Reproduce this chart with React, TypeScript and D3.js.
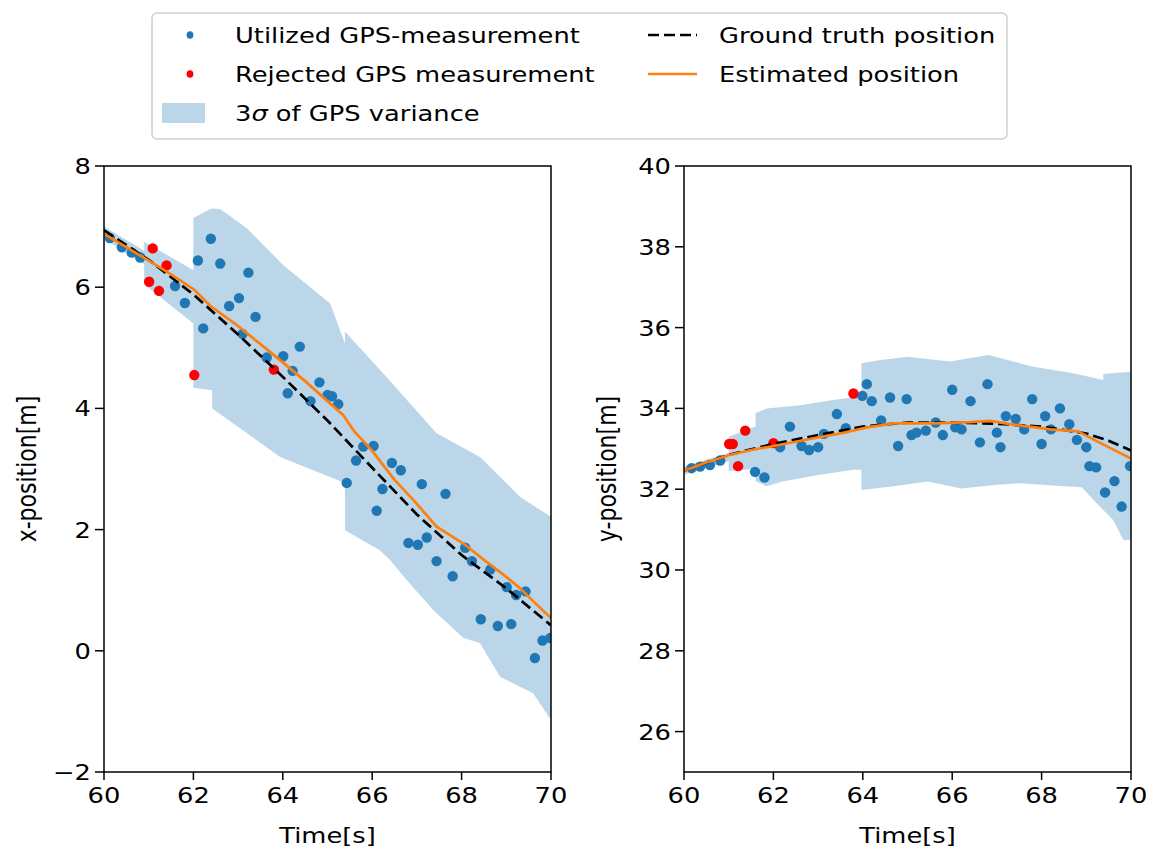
import React from 'react';
import * as d3 from 'd3';

const W = 1149;
const H = 851;
const SX = 1.17; // horizontal text stretch seen in the reference
const FS = 22;
const FONT = 'DejaVu Sans';

const BLUE = '#1f77b4';
const ORANGE = '#ff7f0e';
const RED = '#ff0000';

// ---------- Left panel (x-position) ----------
const leftUsedT = [60.13, 60.40, 60.62, 60.81, 61.59, 61.81, 62.10, 62.22, 62.39, 62.60, 62.80, 63.02, 63.10, 63.23, 63.39, 63.64, 64.01, 64.11, 64.22, 64.38, 64.62, 64.82, 65.00, 65.10, 65.24, 65.43, 65.64, 65.80, 66.03, 66.10, 66.23, 66.44, 66.64, 66.81, 67.02, 67.11, 67.22, 67.44, 67.64, 67.80, 68.08, 68.23, 68.43, 68.64, 68.81, 69.01, 69.11, 69.22, 69.43, 69.64, 69.81, 69.98];
const leftUsedX = [6.81, 6.66, 6.57, 6.49, 6.02, 5.74, 6.44, 5.32, 6.80, 6.39, 5.69, 5.82, 5.23, 6.24, 5.51, 4.84, 4.86, 4.25, 4.62, 5.02, 4.12, 4.43, 4.22, 4.20, 4.07, 2.77, 3.14, 3.37, 3.38, 2.31, 2.67, 3.10, 2.98, 1.78, 1.75, 2.75, 1.87, 1.48, 2.59, 1.23, 1.70, 1.48, 0.52, 1.34, 0.41, 1.05, 0.44, 0.92, 0.98, -0.12, 0.17, 0.21];
const leftRejT = [61.01, 61.09, 61.23, 61.40, 62.02, 63.80];
const leftRejX = [6.09, 6.64, 5.94, 6.36, 4.55, 4.64];

const leftTruthT = [60, 61, 62, 63, 64, 65, 66, 67, 68, 69, 70];
const leftTruthX = [6.94, 6.45, 5.88, 5.22, 4.52, 3.80, 3.02, 2.25, 1.58, 1.03, 0.42];

const leftEstT = [60.0, 60.5, 61.0, 61.5, 62.0, 62.4, 63.0, 63.5, 64.0, 64.5, 65.0, 65.35, 65.6, 66.0, 66.5, 66.92, 67.44, 68.04, 68.5, 69.0, 69.31, 69.6, 70.0];
const leftEstX = [6.88, 6.66, 6.44, 6.21, 5.97, 5.68, 5.36, 5.06, 4.76, 4.45, 4.12, 3.89, 3.62, 3.30, 2.82, 2.49, 2.05, 1.77, 1.50, 1.22, 1.03, 0.82, 0.54];

const leftBandUpT = [60, 60.9, 60.9, 62.0, 62.0, 62.2, 62.4, 62.6, 63.2, 64.0, 65.06, 65.39, 65.39, 66.32, 67.44, 68.41, 69.31, 70];
const leftBandUpX = [7.00, 6.60, 6.75, 6.28, 7.14, 7.22, 7.30, 7.29, 6.97, 6.37, 5.73, 5.07, 5.27, 4.52, 3.59, 3.20, 2.54, 2.21];
const leftBandLoT = [60, 60.9, 60.9, 62.0, 62.0, 62.42, 62.42, 63.2, 63.94, 65.39, 65.39, 66.17, 66.4, 66.77, 67.37, 68.04, 68.41, 68.86, 69.6, 70];
const leftBandLoX = [6.80, 6.38, 6.05, 5.40, 4.34, 4.30, 4.00, 3.59, 3.20, 2.77, 1.99, 1.66, 1.50, 1.17, 0.67, 0.21, 0.13, -0.43, -0.70, -1.14];

// ---------- Right panel (y-position) ----------
const rightUsedT = [60.17, 60.36, 60.58, 60.81, 61.59, 61.80, 62.15, 62.37, 62.63, 62.80, 63.00, 63.13, 63.42, 63.62, 63.99, 64.09, 64.20, 64.41, 64.61, 64.79, 64.98, 65.09, 65.20, 65.41, 65.63, 65.79, 66.00, 66.07, 66.21, 66.41, 66.62, 66.79, 67.00, 67.08, 67.20, 67.42, 67.61, 67.79, 68.00, 68.08, 68.21, 68.41, 68.62, 68.79, 69.00, 69.07, 69.22, 69.42, 69.63, 69.79, 69.98];
const rightUsedY = [32.52, 32.56, 32.60, 32.71, 32.43, 32.29, 33.04, 33.55, 33.07, 32.97, 33.04, 33.37, 33.86, 33.51, 34.31, 34.60, 34.18, 33.70, 34.27, 33.07, 34.23, 33.34, 33.40, 33.45, 33.65, 33.34, 34.46, 33.53, 33.48, 34.18, 33.16, 34.60, 33.40, 33.04, 33.81, 33.74, 33.48, 34.23, 33.12, 33.81, 33.48, 34.00, 33.61, 33.22, 33.04, 32.57, 32.54, 31.92, 32.20, 31.57, 32.57];
const rightRejT = [61.01, 61.09, 61.21, 61.37, 62.0, 63.79];
const rightRejY = [33.12, 33.12, 32.57, 33.45, 33.14, 34.37];

const rightTruthT = [60, 61, 62, 63, 64, 65, 66, 67, 68, 69, 69.5, 70];
const rightTruthY = [32.46, 32.85, 33.12, 33.34, 33.55, 33.65, 33.65, 33.62, 33.55, 33.38, 33.20, 32.96];

const rightEstT = [60, 60.5, 61, 61.5, 62, 62.9, 63.5, 64.1, 64.7, 65.6, 66.4, 66.85, 67.3, 68.2, 68.82, 69.04, 69.46, 70];
const rightEstY = [32.46, 32.66, 32.84, 32.97, 33.07, 33.26, 33.38, 33.53, 33.63, 33.63, 33.66, 33.69, 33.61, 33.48, 33.43, 33.30, 33.06, 32.76];

const rightBandUpT = [60, 61.0, 61.0, 61.6, 61.6, 61.85, 62.6, 63.34, 63.97, 63.97, 64.4, 65.0, 65.95, 66.81, 67.81, 68.71, 69.38, 69.38, 70];
const rightBandUpY = [32.56, 32.90, 33.30, 33.55, 33.88, 34.00, 34.08, 34.21, 34.30, 35.12, 35.20, 35.28, 35.16, 35.32, 35.03, 34.87, 34.70, 34.85, 34.91];
const rightBandLoT = [60, 61.0, 61.0, 61.6, 61.6, 61.85, 62.2, 63.0, 63.79, 63.97, 63.97, 64.7, 65.45, 66.2, 66.9, 67.5, 68.5, 68.9, 69.23, 69.6, 69.83, 70];
const rightBandLoY = [32.36, 32.70, 32.45, 32.50, 32.20, 32.07, 32.19, 32.35, 32.48, 32.48, 31.98, 32.07, 32.19, 32.02, 32.10, 32.15, 32.07, 32.05, 31.65, 31.24, 30.74, 30.74];

const xTicks = [60, 62, 64, 66, 68, 70];
const leftYTicks = [-2, 0, 2, 4, 6, 8];
const rightYTicks = [26, 28, 30, 32, 34, 36, 38, 40];

const zip = (a: number[], b: number[]) => a.map((v, i) => [v, b[i]] as [number, number]);

function Txt(props: { x: number; y: number; anchor?: string; rotate?: number; children: React.ReactNode }) {
  const { x, y, anchor = 'start', rotate = 0, children } = props;
  return (
    <text
      transform={`translate(${x},${y}) scale(${SX},1)${rotate ? ` rotate(${rotate})` : ''}`}
      textAnchor={anchor}
      fontFamily={FONT}
      fontSize={FS}
      fill="#000"
    >
      {children}
    </text>
  );
}

type PanelProps = {
  id: string;
  x0: number;
  x1: number;
  yDomain: [number, number];
  yTicks: number[];
  yLabel: string;
  usedT: number[]; usedV: number[];
  rejT: number[]; rejV: number[];
  truthT: number[]; truthV: number[];
  estT: number[]; estV: number[];
  upT: number[]; upV: number[];
  loT: number[]; loV: number[];
};

const TOP = 166;
const BOTTOM = 772;

function Panel(p: PanelProps) {
  const x = d3.scaleLinear().domain([60, 70]).range([p.x0, p.x1]);
  const y = d3.scaleLinear().domain(p.yDomain).range([BOTTOM, TOP]);
  const line = d3.line<[number, number]>().x(d => x(d[0])).y(d => y(d[1]));
  const bandPts = [...zip(p.upT, p.upV), ...zip(p.loT, p.loV).reverse()];
  const bandPath = line(bandPts) + 'Z';
  const clipId = `clip-${p.id}`;
  return (
    <g>
      <defs>
        <clipPath id={clipId}>
          <rect x={p.x0} y={TOP} width={p.x1 - p.x0} height={BOTTOM - TOP} />
        </clipPath>
      </defs>
      <g clipPath={`url(#${clipId})`}>
        <path d={bandPath} fill={BLUE} fillOpacity={0.3} stroke="none" />
        {zip(p.usedT, p.usedV).map((d, i) => (
          <circle key={`u${i}`} cx={x(d[0])} cy={y(d[1])} r={5.2} fill={BLUE} />
        ))}
        {zip(p.rejT, p.rejV).map((d, i) => (
          <circle key={`r${i}`} cx={x(d[0])} cy={y(d[1])} r={5.2} fill={RED} />
        ))}
        <path d={line(zip(p.truthT, p.truthV)) || ''} fill="none" stroke="#000" strokeWidth={2.7} strokeDasharray="11,5" />
        <path d={line(zip(p.estT, p.estV)) || ''} fill="none" stroke={ORANGE} strokeWidth={2.7} strokeLinejoin="round" />
      </g>
      <rect x={p.x0} y={TOP} width={p.x1 - p.x0} height={BOTTOM - TOP} fill="none" stroke="#000" strokeWidth={1.5} />
      {xTicks.map(t => (
        <g key={`xt${t}`}>
          <line x1={x(t)} x2={x(t)} y1={BOTTOM} y2={BOTTOM + 8} stroke="#000" strokeWidth={1.5} />
          <Txt x={x(t)} y={BOTTOM + 31} anchor="middle">{String(t)}</Txt>
        </g>
      ))}
      {p.yTicks.map(t => (
        <g key={`yt${t}`}>
          <line x1={p.x0 - 9} x2={p.x0} y1={y(t)} y2={y(t)} stroke="#000" strokeWidth={1.5} />
          <Txt x={p.x0 - 13} y={y(t) + 8} anchor="end">{t < 0 ? `\u2212${Math.abs(t)}` : String(t)}</Txt>
        </g>
      ))}
      <Txt x={(p.x0 + p.x1) / 2} y={843} anchor="middle">Time[s]</Txt>
      <Txt x={p.x0 - 68} y={(TOP + BOTTOM) / 2} anchor="middle" rotate={-90}>{p.yLabel}</Txt>
    </g>
  );
}

function Legend() {
  const rows = [35, 74, 113];
  return (
    <g>
      <rect x={152} y={13} width={855} height={126} rx={5} fill="#fff" fillOpacity={0.8} stroke="#d0d0d0" strokeWidth={1.5} />
      <ellipse cx={190} cy={rows[0]} rx={3.4} ry={3.8} fill={BLUE} />
      <Txt x={235} y={rows[0] + 8}>Utilized GPS-measurement</Txt>
      <ellipse cx={190} cy={rows[1]} rx={3.4} ry={3.8} fill={RED} />
      <Txt x={235} y={rows[1] + 8}>Rejected GPS measurement</Txt>
      <rect x={162} y={rows[2] - 10} width={43} height={20} fill={BLUE} fillOpacity={0.3} />
      <Txt x={235} y={rows[2] + 8}>
        <tspan>3</tspan><tspan fontStyle="italic">σ</tspan><tspan> of GPS variance</tspan>
      </Txt>
      <line x1={648} x2={697} y1={rows[0]} y2={rows[0]} stroke="#000" strokeWidth={2.7} strokeDasharray="11,5" />
      <Txt x={719} y={rows[0] + 8}>Ground truth position</Txt>
      <line x1={648} x2={697} y1={rows[1]} y2={rows[1]} stroke={ORANGE} strokeWidth={2.7} />
      <Txt x={719} y={rows[1] + 8}>Estimated position</Txt>
    </g>
  );
}

export default function App() {
  return (
    <svg width={W} height={H} viewBox={`0 0 ${W} ${H}`} style={{ position: 'absolute', left: 0, top: 0, background: '#fff' }}>
      <rect x={0} y={0} width={W} height={H} fill="#fff" />
      <Panel
        id="left" x0={104} x1={551} yDomain={[-2, 8]} yTicks={leftYTicks} yLabel="x-position[m]"
        usedT={leftUsedT} usedV={leftUsedX} rejT={leftRejT} rejV={leftRejX}
        truthT={leftTruthT} truthV={leftTruthX} estT={leftEstT} estV={leftEstX}
        upT={leftBandUpT} upV={leftBandUpX} loT={leftBandLoT} loV={leftBandLoX}
      />
      <Panel
        id="right" x0={684} x1={1131} yDomain={[25, 40]} yTicks={rightYTicks} yLabel="y-position[m]"
        usedT={rightUsedT} usedV={rightUsedY} rejT={rightRejT} rejV={rightRejY}
        truthT={rightTruthT} truthV={rightTruthY} estT={rightEstT} estV={rightEstY}
        upT={rightBandUpT} upV={rightBandUpY} loT={rightBandLoT} loV={rightBandLoY}
      />
      <Legend />
    </svg>
  );
}
